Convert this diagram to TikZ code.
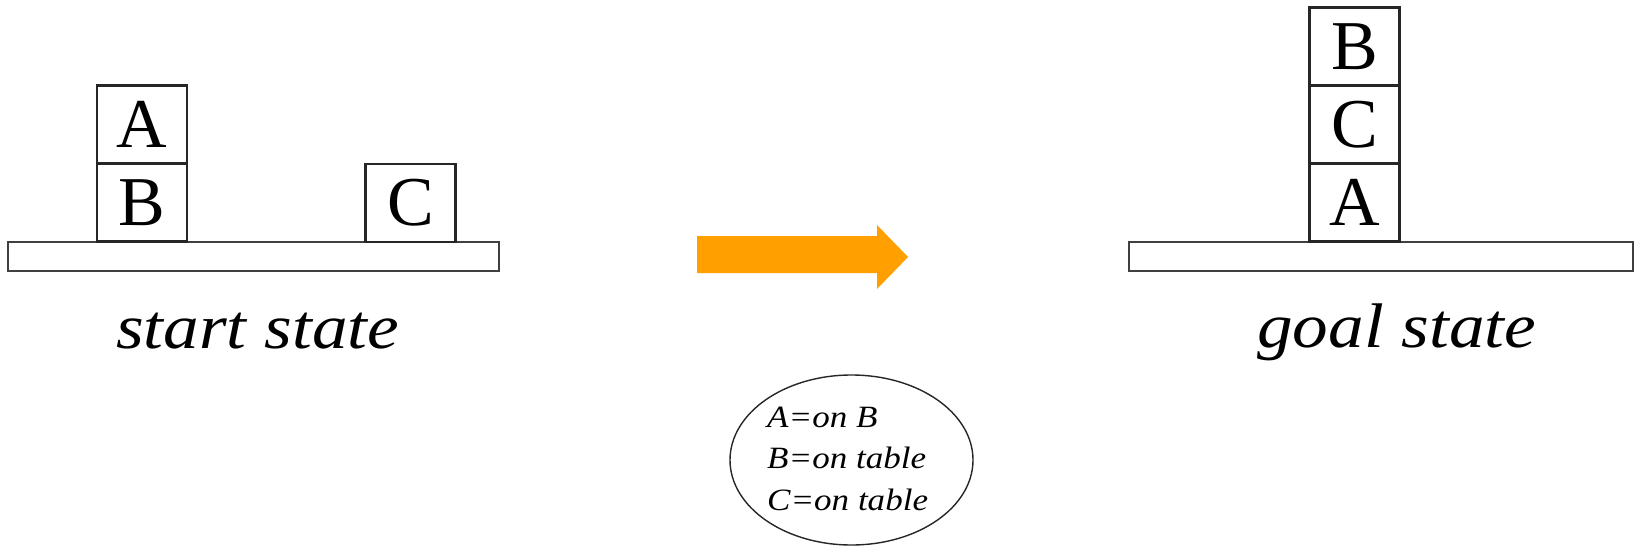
\documentclass[tikz,border=0pt]{standalone}
\usepackage{fontspec}
\setmainfont{Liberation Serif}
\usetikzlibrary{shapes.geometric}
\definecolor{arroworange}{RGB}{255,160,0}
\tikzset{
  blockbox/.style={draw=black!85, line width=2.2pt, minimum width=90pt, minimum height=78pt, inner sep=0pt, font=\fontsize{70}{70}\selectfont},
  tablebox/.style={draw=black!75, line width=2.2pt, inner sep=0pt},
  statelabel/.style={inner sep=0pt, anchor=base west, font=\fontsize{63}{63}\selectfont\itshape},
  legendtext/.style={inner sep=0pt, anchor=base west, font=\fontsize{31}{31}\selectfont\itshape},
}
\newcommand{\wide}[1]{\scalebox{1.13}[1]{#1}}
\begin{document}
\begin{tikzpicture}[x=1pt,y=-1pt]
\useasboundingbox (0,0) rectangle (1635,546);
% left state
\node[tablebox, minimum width=491pt, minimum height=29pt] (table1) at (253.5,256.5) {};
\node[blockbox] (b1) at (142,202.5) {B};
\node[blockbox] (a1) at (142,124.5) {A};
\node[blockbox] (c1) at (410.5,203) {C};
\node[statelabel] (start) at (116,348) {\wide{start state}};
% right state
\node[tablebox, minimum width=504pt, minimum height=29pt] (table2) at (1381,256.5) {};
\node[blockbox] (a2) at (1354.5,202.5) {A};
\node[blockbox] (c2) at (1354.5,124.5) {C};
\node[blockbox] (b2) at (1354.5,46.5) {B};
\node[statelabel] (goal) at (1257,347) {\wide{goal state}};
% arrow
\fill[arroworange] (697,236) -- (877,236) -- (877,225) -- (908,257) -- (877,289) -- (877,273) -- (697,273) -- cycle;
% legend
\node[draw=black!85, line width=1.4pt, ellipse, minimum width=243pt, minimum height=170pt, inner sep=0pt] (legend) at (851.5,460) {};
\node[legendtext] (l1) at (767,427) {\wide{A=on B}};
\node[legendtext] (l2) at (767,468) {\wide{B=on table}};
\node[legendtext] (l3) at (767,510) {\wide{C=on table}};
\end{tikzpicture}
\end{document}
